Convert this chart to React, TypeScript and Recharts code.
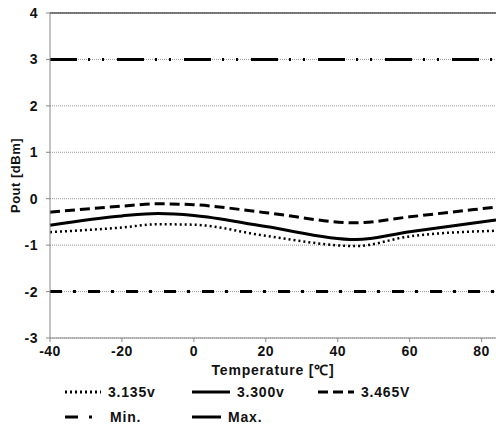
import React from 'react';
import { LineChart, Line, XAxis, YAxis, CartesianGrid, ReferenceLine } from 'recharts';

// temperature points (°C) and Pout readings (dBm) per supply voltage
const temps = [-40, -20, -10, 0, 20, 45, 60, 84];
const v3135 = [-0.72, -0.62, -0.55, -0.56, -0.8, -1.02, -0.81, -0.69];
const v3300 = [-0.57, -0.37, -0.32, -0.36, -0.6, -0.88, -0.71, -0.46];
const v3465 = [-0.29, -0.16, -0.11, -0.13, -0.3, -0.52, -0.39, -0.18];

const xTicks = [-40, -20, 0, 20, 40, 60, 80];
const yTicks = [-3, -2, -1, 0, 1, 2, 3, 4];
const MIN_LIMIT = -2;
const MAX_LIMIT = 3;

const data = temps.map((t, i) => ({ temp: t, a: v3135[i], b: v3300[i], c: v3465[i] }));

const font = '"Liberation Sans", Arial, sans-serif';
const tickStyle = { fontSize: 14, fontWeight: 700, fill: '#111', fontFamily: font, letterSpacing: 0.5 };

const DOT = '2 3';
const DASH = '10 5';
const MIN_DASH = '12 11 3 12';
const MAX_DASH = '27 11 2 12 2 13';

function LegendItem({ x, y, dash, label, w = 36 }: { x: number; y: number; dash?: string; label: string; w?: number }) {
  return (
    <g>
      <line x1={x} y1={y} x2={x + w} y2={y} stroke="#000" strokeWidth={3} strokeDasharray={dash} />
      <text x={x + w + 7} y={y + 5} fontSize={14} fontWeight={700} fontFamily={font} fill="#111" letterSpacing={0.8}>
        {label}
      </text>
    </g>
  );
}

export default function App() {
  return (
    <div style={{ position: 'absolute', left: 0, top: 0, width: 496, height: 424 }}>
      <LineChart width={496} height={424} data={data} margin={{ top: 13, right: 0, left: 0, bottom: 0 }}>
        <CartesianGrid vertical={false} stroke="#999" strokeDasharray="1 1" />
        <XAxis
          dataKey="temp"
          type="number"
          domain={[-40, 84]}
          ticks={xTicks}
          height={86}
          stroke="#888"
          tickSize={4}
          tickMargin={4}
          tick={tickStyle}
          label={{ value: 'Temperature [℃]', position: 'insideTop', offset: 27, style: { ...tickStyle, letterSpacing: 0.8 } }}
        />
        <YAxis
          type="number"
          domain={[-3, 4]}
          ticks={yTicks}
          width={50}
          stroke="#888"
          tickSize={4}
          tickMargin={8}
          tick={tickStyle}
          label={{ value: 'Pout [dBm]', angle: -90, position: 'center', dx: -10, style: { ...tickStyle, fontSize: 13 } }}
        />
        <ReferenceLine y={4} stroke="#555" strokeWidth={1.5} />
        <ReferenceLine y={MAX_LIMIT} stroke="#000" strokeWidth={3} strokeDasharray={MAX_DASH} />
        <ReferenceLine y={MIN_LIMIT} stroke="#000" strokeWidth={3} strokeDasharray={MIN_DASH} />
        <Line type="monotone" dataKey="a" stroke="#000" strokeWidth={2.5} strokeDasharray={DOT} dot={false} isAnimationActive={false} />
        <Line type="monotone" dataKey="b" stroke="#000" strokeWidth={3} dot={false} isAnimationActive={false} />
        <Line type="monotone" dataKey="c" stroke="#000" strokeWidth={3} strokeDasharray={DASH} dot={false} isAnimationActive={false} />
      </LineChart>
      <svg width={496} height={50} style={{ position: 'absolute', left: 0, top: 378 }}>
        <LegendItem x={65} y={14} dash={DOT} label="3.135v" />
        <LegendItem x={192} y={14} label="3.300v" w={38} />
        <LegendItem x={318} y={14} dash={DASH} label="3.465V" />
        <LegendItem x={65} y={39} dash="13 11 3 20" label="Min." w={38} />
        <LegendItem x={192} y={39} label="Max." w={29} />
      </svg>
    </div>
  );
}
